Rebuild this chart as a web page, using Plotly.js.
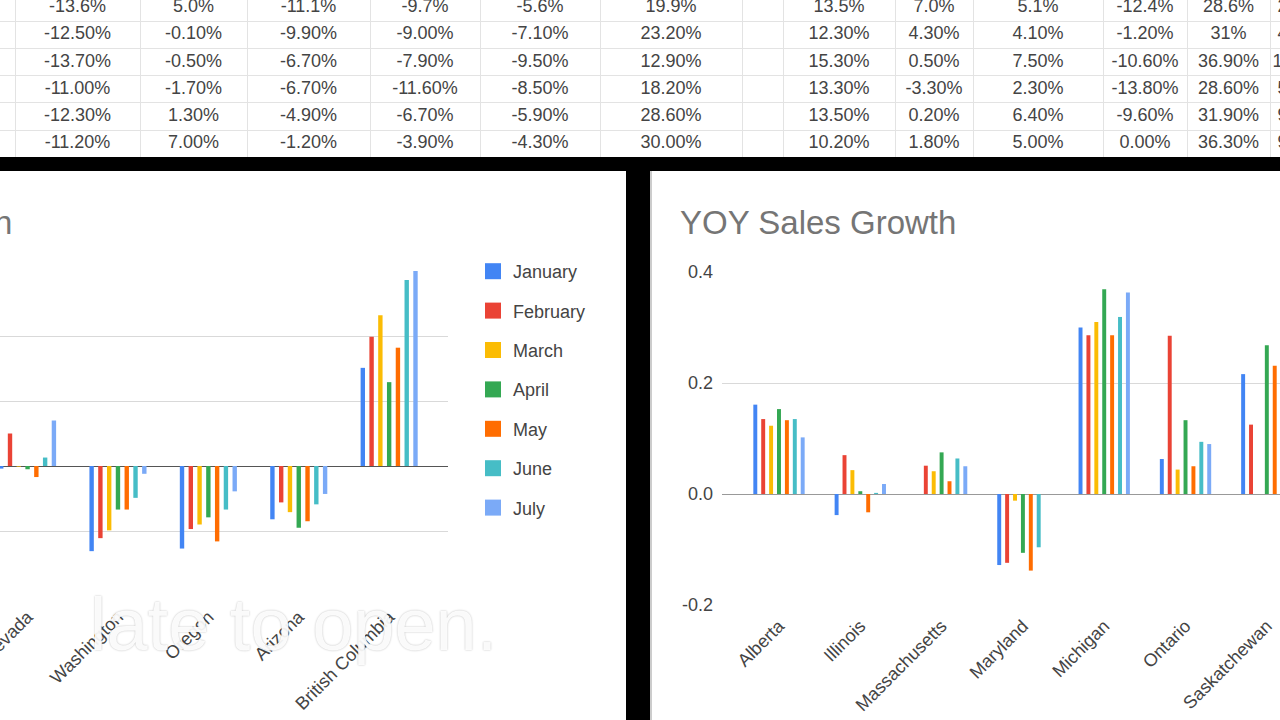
<!DOCTYPE html>
<html>
<head>
<meta charset="utf-8">
<script src="https://cdn.plot.ly/plotly-3.0.1.min.js"></script>
<style>
  html, body { margin: 0; padding: 0; background: #ffffff; }
  #chart { width: 1280px; height: 720px; }
</style>
</head>
<body>
<div id="chart"></div>
<script>
// ---------- DATA ----------
const months = ['January', 'February', 'March', 'April', 'May', 'June', 'July'];

// Left chart (western regions)
const westRegions = ['Nevada', 'Washington', 'Oregon', 'Arizona', 'British Columbia'];
const westJanuary  = [-0.004, -0.131, -0.127, -0.082, 0.151];
const westFebruary = [ 0.050, -0.111, -0.097, -0.056, 0.199];
const westMarch    = [-0.001, -0.099, -0.090, -0.071, 0.232];
const westApril    = [-0.005, -0.067, -0.079, -0.095, 0.129];
const westMay      = [-0.017, -0.067, -0.116, -0.085, 0.182];
const westJune     = [ 0.013, -0.049, -0.067, -0.059, 0.286];
const westJuly     = [ 0.070, -0.012, -0.039, -0.043, 0.300];

// Right chart
const eastRegions = ['Alberta', 'Illinois', 'Massachusetts', 'Maryland', 'Michigan', 'Ontario', 'Saskatchewan'];
const eastJanuary  = [0.161, -0.038, 0.000, -0.128, 0.300, 0.063, 0.216];
const eastFebruary = [0.135,  0.070, 0.051, -0.124, 0.286, 0.285, 0.125];
const eastMarch    = [0.123,  0.043, 0.041, -0.012, 0.310, 0.044, 0.000];
const eastApril    = [0.153,  0.005, 0.075, -0.106, 0.369, 0.133, 0.268];
const eastMay      = [0.133, -0.033, 0.023, -0.138, 0.286, 0.050, 0.231];
const eastJune     = [0.135,  0.002, 0.064, -0.096, 0.319, 0.094, null];
const eastJuly     = [0.102,  0.018, 0.050,  0.000, 0.363, 0.090, null];

// Right chart y tick labels
const yTickVals = [-0.2, 0.0, 0.2, 0.4];
const yTickText = ['-0.2', '0.0', '0.2', '0.4'];

// Spreadsheet rows visible above the charts
const sheetRow1 = ['-13.6%', '5.0%', '-11.1%', '-9.7%', '-5.6%', '19.9%', '', '13.5%', '7.0%', '5.1%', '-12.4%', '28.6%', '28.5%'];
const sheetRow2 = ['-12.50%', '-0.10%', '-9.90%', '-9.00%', '-7.10%', '23.20%', '', '12.30%', '4.30%', '4.10%', '-1.20%', '31%', '4.40%'];
const sheetRow3 = ['-13.70%', '-0.50%', '-6.70%', '-7.90%', '-9.50%', '12.90%', '', '15.30%', '0.50%', '7.50%', '-10.60%', '36.90%', '13.30%'];
const sheetRow4 = ['-11.00%', '-1.70%', '-6.70%', '-11.60%', '-8.50%', '18.20%', '', '13.30%', '-3.30%', '2.30%', '-13.80%', '28.60%', '5.00%'];
const sheetRow5 = ['-12.30%', '1.30%', '-4.90%', '-6.70%', '-5.90%', '28.60%', '', '13.50%', '0.20%', '6.40%', '-9.60%', '31.90%', '9.40%'];
const sheetRow6 = ['-11.20%', '7.00%', '-1.20%', '-3.90%', '-4.30%', '30.00%', '', '10.20%', '1.80%', '5.00%', '0.00%', '36.30%', '9.00%'];

// ---------- STYLE / LAYOUT ----------
const W = 1280, H = 720;
const colors = ['#4285F4', '#EA4335', '#FBBC04', '#34A853', '#FF6D01', '#46BDC6', '#7BAAF7'];
const FONT = 'Arial, "Liberation Sans", sans-serif';
const sheetColEdges = [15, 140, 247, 370, 480, 600, 742, 783, 895, 973, 1103, 1187, 1270, 1336];

const westSeries = [westJanuary, westFebruary, westMarch, westApril, westMay, westJune, westJuly];
const eastSeries = [eastJanuary, eastFebruary, eastMarch, eastApril, eastMay, eastJune, eastJuly];
const sheetRows = [sheetRow1, sheetRow2, sheetRow3, sheetRow4, sheetRow5, sheetRow6];

const px = v => v / W;
const py = v => 1 - v / H;

const traces = [];
months.forEach((m, i) => {
  traces.push({
    type: 'bar', name: m, x: westRegions, y: westSeries[i],
    xaxis: 'x', yaxis: 'y', legendgroup: m, showlegend: false,
    marker: { color: colors[i], line: { width: 0 } }, hoverinfo: 'none'
  });
});
months.forEach((m, i) => {
  traces.push({
    type: 'bar', name: m, x: eastRegions, y: eastSeries[i],
    xaxis: 'x2', yaxis: 'y2', legendgroup: m, showlegend: false,
    marker: { color: colors[i], line: { width: 0 } }, hoverinfo: 'none'
  });
});
// legend entries (larger square swatches like the original)
months.forEach((m, i) => {
  traces.push({
    type: 'scatter', mode: 'markers', name: m, x: [null], y: [null],
    xaxis: 'x', yaxis: 'y', legendgroup: m, showlegend: true,
    marker: { color: colors[i], symbol: 'square', size: 18, line: { width: 0 } },
    hoverinfo: 'none'
  });
});

// spreadsheet text
const colCenters = [];
for (let c = 0; c < sheetColEdges.length - 1; c++) colCenters.push((sheetColEdges[c] + sheetColEdges[c + 1]) / 2);
const tx = [], ty = [], tt = [];
sheetRows.forEach((row, r) => {
  row.forEach((txt, c) => { tx.push(colCenters[c]); ty.push(r); tt.push(txt); });
});
traces.push({
  type: 'scatter', mode: 'text', x: tx, y: ty, text: tt,
  xaxis: 'x3', yaxis: 'y3', showlegend: false, hoverinfo: 'none',
  textposition: 'middle center',
  textfont: { family: FONT, size: 18, color: '#444' }
});

const rowTop = 7.5, rowH = 27.25, sheetBottom = 157;

const layout = {
  width: W, height: H,
  margin: { l: 0, r: 0, t: 0, b: 0, pad: 0 },
  paper_bgcolor: '#ffffff', plot_bgcolor: 'rgba(0,0,0,0)',
  font: { family: FONT, color: '#444' },
  barmode: 'group', bargap: 0.32, bargroupgap: 0.5,
  showlegend: true,
  legend: {
    x: px(473), y: py(253), xanchor: 'left', yanchor: 'top',
    font: { family: FONT, size: 18, color: '#444' },
    tracegroupgap: 13, bgcolor: 'rgba(0,0,0,0)', traceorder: 'grouped',
    itemsizing: 'trace'
  },
  xaxis: {
    domain: [0, px(448)], anchor: 'y', type: 'category',
    range: [-0.305, 4.651],
    tickangle: -45, tickfont: { family: FONT, size: 18, color: '#444' },
    ticklabelstandoff: 6,
    showgrid: false, showline: false, zeroline: false, ticks: '', fixedrange: true
  },
  yaxis: {
    domain: [1 - 596 / H, 1 - 271 / H], anchor: 'x',
    range: [-0.2, 0.3], dtick: 0.1, tick0: 0,
    showticklabels: false, ticks: '',
    gridcolor: '#d9d9d9', gridwidth: 1,
    zeroline: true, zerolinecolor: '#555', zerolinewidth: 1, fixedrange: true
  },
  xaxis2: {
    domain: [px(722), 1], anchor: 'y2', type: 'category',
    range: [-0.701, 6.162],
    tickangle: -45, tickfont: { family: FONT, size: 18, color: '#444' },
    ticklabelstandoff: 6,
    showgrid: false, showline: false, zeroline: false, ticks: '', fixedrange: true
  },
  yaxis2: {
    domain: [1 - 605 / H, 1 - 272 / H], anchor: 'x2',
    range: [-0.2, 0.4], tickvals: yTickVals, ticktext: yTickText,
    tickfont: { family: FONT, size: 18, color: '#444' }, ticks: '',
    ticklabelstandoff: 8,
    gridcolor: '#d9d9d9', gridwidth: 1,
    zeroline: true, zerolinecolor: '#999', zerolinewidth: 1, fixedrange: true
  },
  xaxis3: {
    domain: [0, 1], anchor: 'y3', range: [0, W],
    tickvals: sheetColEdges, showticklabels: false, ticks: '',
    showgrid: true, gridcolor: '#e3e3e3', zeroline: false, showline: false, fixedrange: true
  },
  yaxis3: {
    domain: [1 - sheetBottom / H, 1], anchor: 'x3',
    range: [(sheetBottom - rowTop) / rowH, -rowTop / rowH],
    tickvals: [0.5, 1.5, 2.5, 3.5, 4.5, 5.5], showticklabels: false, ticks: '',
    showgrid: true, gridcolor: '#e3e3e3', zeroline: false, showline: false, fixedrange: true
  },
  shapes: [
    { type: 'rect', xref: 'paper', yref: 'paper', x0: 0, x1: 1, y0: py(171), y1: py(157),
      fillcolor: '#000', line: { width: 0 } },
    { type: 'rect', xref: 'paper', yref: 'paper', x0: px(626), x1: px(650), y0: 0, y1: py(171),
      fillcolor: '#000', line: { width: 0 } },
    { type: 'line', xref: 'paper', yref: 'paper', x0: px(651), x1: px(651), y0: 0, y1: py(171),
      line: { color: '#bbb', width: 1.5 } }
  ],
  annotations: [
    { text: 'YOY Sales Growth', xref: 'paper', yref: 'paper', x: px(14), y: py(222),
      xanchor: 'right', yanchor: 'middle', showarrow: false,
      font: { family: FONT, size: 33, color: '#757575' } },
    { text: 'YOY Sales Growth', xref: 'paper', yref: 'paper', x: px(678), y: py(222),
      xanchor: 'left', yanchor: 'middle', showarrow: false,
      font: { family: FONT, size: 33, color: '#757575' } },
    { text: 'late to open.', xref: 'paper', yref: 'paper', x: px(293), y: py(624),
      xanchor: 'center', yanchor: 'middle', showarrow: false,
      font: { family: FONT, size: 74, color: 'rgba(255,255,255,0.92)',
              shadow: '0px 0px 2px rgba(0,0,0,0.30)' } }
  ]
};

Plotly.newPlot('chart', traces, layout, { displayModeBar: false, staticPlot: true });
</script>
</body>
</html>
